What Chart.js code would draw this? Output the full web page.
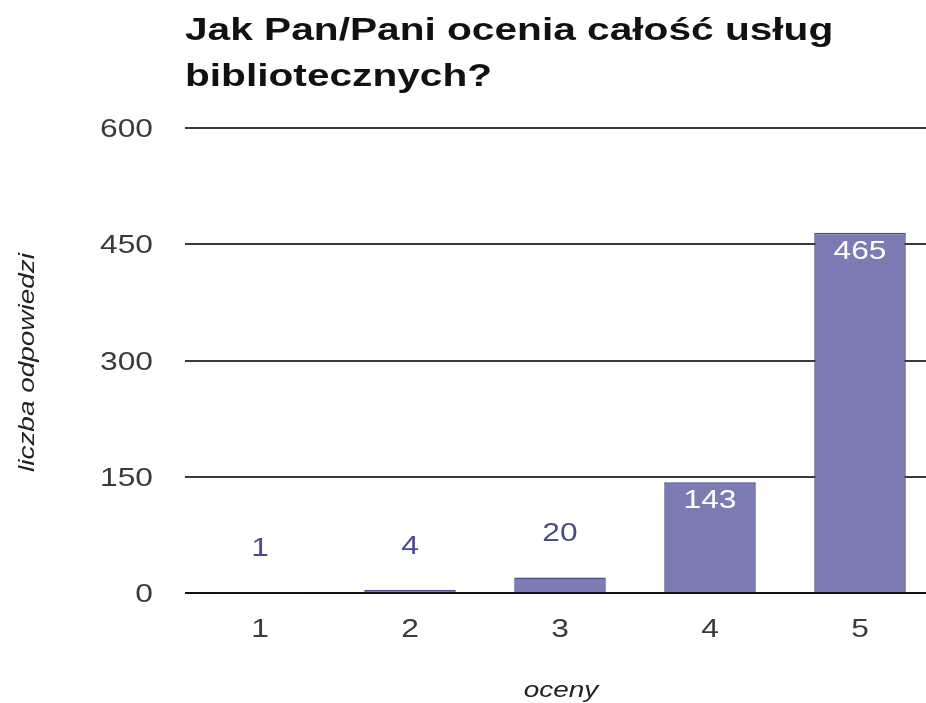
<!DOCTYPE html>
<html lang="pl">
<head>
<meta charset="utf-8">
<title>Jak Pan/Pani ocenia całość usług bibliotecznych?</title>
<script src="https://cdn.jsdelivr.net/npm/chart.js@4/dist/chart.umd.min.js"></script>
<style>
  html, body { margin: 0; padding: 0; background: #fff; overflow: hidden; }
  #wrap { position: relative; width: 940px; height: 703px; }
</style>
</head>
<body>
<div id="wrap"><canvas id="chart"></canvas></div>
<script>
// Survey answers: rating (1–5) and number of responses
const titleLines = ['Jak Pan/Pani ocenia całość usług', 'bibliotecznych?'];
const ratings = ['1', '2', '3', '4', '5'];
const responses = [1, 4, 20, 143, 465];
const yTicks = [0, 150, 300, 450, 600];
const xAxisTitle = 'oceny';
const yAxisTitle = 'liczba odpowiedzi';

const FONT = '"Liberation Sans", Arial, Helvetica, sans-serif';
const WIDE = 1.27;              // horizontal widening of every text run
const BAR_FILL = '#7c7cb4';
const BAR_EDGE = '#4a4a8c';
const LABEL_BLUE = '#4b4b90';
const TEXT_GREY = '#3a3a3a';

// Draws a text run widened along its own direction (optionally rotated)
function wideText(ctx, text, x, y, opts) {
  ctx.save();
  ctx.translate(x, y);
  if (opts.rotate) ctx.rotate(opts.rotate);
  ctx.scale(WIDE, 1);
  ctx.font = opts.font;
  ctx.fillStyle = opts.color;
  ctx.textAlign = opts.align || 'center';
  ctx.textBaseline = opts.baseline || 'alphabetic';
  ctx.fillText(text, 0, 0);
  ctx.restore();
}

// Title, tick labels and axis titles
const textPlugin = {
  id: 'wideTexts',
  afterDraw(chart) {
    const { ctx, chartArea, scales } = chart;
    const tickFont = `25px ${FONT}`;

    titleLines.forEach((line, i) =>
      wideText(ctx, line, chartArea.left, 40 + i * 46,
        { font: `bold 32px ${FONT}`, color: '#111', align: 'left' }));

    scales.y.ticks.forEach(t =>
      wideText(ctx, String(t.value), chartArea.left - 32, scales.y.getPixelForValue(t.value) + 9,
        { font: tickFont, color: TEXT_GREY, align: 'right' }));

    ratings.forEach((r, i) =>
      wideText(ctx, r, scales.x.getPixelForTick(i), 637,
        { font: tickFont, color: TEXT_GREY }));

    wideText(ctx, xAxisTitle, (chartArea.left + chartArea.right) / 2 + 1, 697,
      { font: `italic 22px ${FONT}`, color: '#222' });

    wideText(ctx, yAxisTitle, 34, (chartArea.top + chartArea.bottom) / 2 + 2,
      { font: `italic 22px ${FONT}`, color: '#222', rotate: -Math.PI / 2 });
  }
};

// Value labels: white inside tall bars, blue above short ones
const valueLabels = {
  id: 'valueLabels',
  afterDatasetsDraw(chart) {
    const { ctx } = chart;
    const meta = chart.getDatasetMeta(0);
    const values = chart.data.datasets[0].data;
    meta.data.forEach((bar, i) => {
      const v = values[i];
      if (v >= 100) {
        wideText(ctx, String(v), bar.x, bar.y + 19,
          { font: `25px ${FONT}`, color: '#ffffff', baseline: 'middle' });
      } else {
        wideText(ctx, String(v), bar.x, bar.y - 43,
          { font: `25px ${FONT}`, color: LABEL_BLUE, baseline: 'middle' });
      }
    });
  }
};

new Chart(document.getElementById('chart'), {
  type: 'bar',
  data: {
    labels: ratings,
    datasets: [{
      data: responses,
      backgroundColor: BAR_FILL,
      borderColor: BAR_EDGE,
      borderWidth: 1.5,
      borderSkipped: 'bottom',
      categoryPercentage: 1.0,
      barPercentage: 0.61
    }]
  },
  options: {
    responsive: true,
    maintainAspectRatio: false,
    animation: false,
    layout: { padding: { top: 128, right: 5, bottom: 0, left: 0 } },
    plugins: {
      legend: { display: false },
      title: { display: false },
      tooltip: { enabled: false }
    },
    scales: {
      x: {
        grid: { display: false, drawTicks: false },
        border: { display: false },
        ticks: { display: false },
        afterFit(scale) { scale.height = 110; }
      },
      y: {
        min: 0,
        max: 600,
        afterBuildTicks(scale) { scale.ticks = yTicks.map(v => ({ value: v })); },
        grid: {
          drawTicks: false,
          color: ctx => ctx.tick && ctx.tick.value === 0 ? '#111' : '#3a3a3a',
          lineWidth: 2
        },
        border: { display: false },
        ticks: { display: false },
        afterFit(scale) { scale.width = 185; }
      }
    }
  },
  plugins: [textPlugin, valueLabels]
});
</script>
</body>
</html>
